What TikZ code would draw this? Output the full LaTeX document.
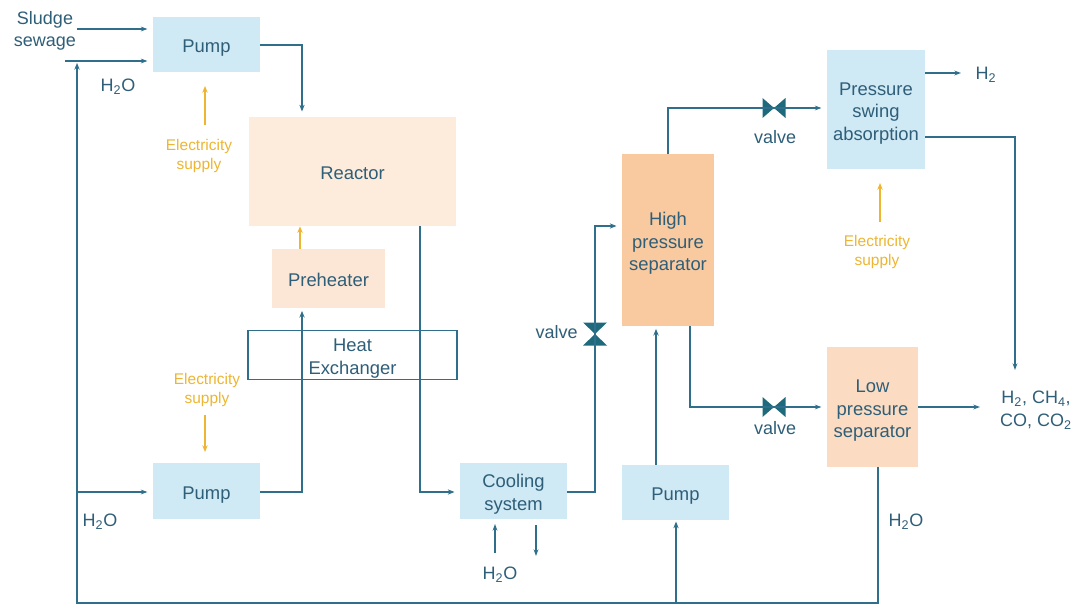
\documentclass[tikz,border=0pt]{standalone}
\usepackage{fontspec}
\setmainfont{Liberation Sans}
\usetikzlibrary{arrows.meta,calc}
\definecolor{flowc}{HTML}{2F6F8C}
\definecolor{txtc}{HTML}{2E5E78}
\definecolor{bluefill}{HTML}{CFE9F5}
\definecolor{peachfill}{HTML}{FDEBDC}
\definecolor{prefill}{HTML}{FCE7D6}
\definecolor{hpfill}{HTML}{F9C9A0}
\definecolor{lpfill}{HTML}{FBDCC2}
\definecolor{elecc}{HTML}{EDB531}
\definecolor{valvec}{HTML}{1E6A7C}
\newcommand\boxtext[1]{\raisebox{-2.8pt}[\height][\depth]{\begin{tabular}{@{}c@{}}#1\end{tabular}}}
\tikzset{
  unit/.style={inner sep=0pt, text=txtc, font=\fontsize{13.8}{17}\selectfont},
  bluebox/.style={unit, fill=bluefill},
  label/.style={inner sep=0pt, align=center, text=txtc, font=\fontsize{13.5}{17}\selectfont},
  eleclabel/.style={inner sep=0pt, align=center, text=elecc, font=\fontsize{11.6}{14}\selectfont},
  flow/.style={draw=flowc, line width=1.3pt, -{Stealth[length=5pt,width=4pt]}},
  flowline/.style={draw=flowc, line width=1.3pt},
  thinflow/.style={draw=flowc, line width=0.8pt, -{Stealth[length=5pt,width=3.6pt]}},
  thinline/.style={draw=flowc, line width=0.8pt},
  elecarrow/.style={draw=elecc, line width=1.3pt, -{Stealth[length=5pt,width=4pt]}},
  hvalve/.pic={\fill[valvec] (-11.5,-10)--(0,0)--(-11.5,10)--cycle (11.5,-10)--(0,0)--(11.5,10)--cycle;},
  vvalve/.pic={\fill[valvec] (-12,-11.5)--(0,0)--(12,-11.5)--cycle (-12,11.5)--(0,0)--(12,11.5)--cycle;}
}
\begin{document}
\begin{tikzpicture}[x=0.75pt,y=-0.75pt]
\useasboundingbox (0,0) rectangle (1077,606);
% units
\node[bluebox, minimum width=80.25pt, minimum height=41.25pt] (pump1) at (206.5,44.5) {\boxtext{Pump}};
\node[unit, fill=peachfill, minimum width=155.25pt, minimum height=81.75pt] (reactor) at (352.5,171.5) {\boxtext{Reactor}};
\node[unit, fill=prefill, minimum width=84.75pt, minimum height=44.25pt] (pre) at (328.5,278.5) {\boxtext{Preheater}};
\node[unit, draw=flowc, line width=1.1pt, minimum width=156.75pt, minimum height=36.75pt] (hx) at (352.5,355) {\boxtext{Heat\\Exchanger}};
\node[bluebox, minimum width=80.25pt, minimum height=42pt] (pump2) at (206.5,491) {\boxtext{Pump}};
\node[bluebox, minimum width=80.25pt, minimum height=42pt] (cool) at (513.5,491) {\boxtext{Cooling\\system}};
\node[unit, fill=hpfill, minimum width=69pt, minimum height=129pt] (hps) at (668,240) {\boxtext{High\\pressure\\separator}};
\node[bluebox, minimum width=80.25pt, minimum height=41.25pt] (pump3) at (675.5,492.5) {\boxtext{Pump}};
\node[bluebox, minimum width=73.5pt, minimum height=89.25pt] (psa) at (876,109.5) {\boxtext{Pressure\\swing\\absorption}};
\node[unit, fill=lpfill, minimum width=68.25pt, minimum height=90pt] (lps) at (872.5,407) {\boxtext{Low\\pressure\\separator}};
% labels
\node[label] (sludge) at (45,31) {Sludge\\sewage};
\node[label] (w1) at (118,87) {H\textsubscript{2}O};
\node[label] (w2) at (100,522) {H\textsubscript{2}O};
\node[label] (w3) at (500,575) {H\textsubscript{2}O};
\node[label] (w4) at (906,522) {H\textsubscript{2}O};
\node[label] (h2) at (986,75) {H\textsubscript{2}};
\node[label] (mix) at (1036,410) {H\textsubscript{2}, CH\textsubscript{4},\\CO, CO\textsubscript{2}};
\node[eleclabel] (e1) at (199,156) {Electricity\\supply};
\node[eleclabel] (e2) at (207,390) {Electricity\\supply};
\node[eleclabel] (e3) at (877,252) {Electricity\\supply};
% valves
\coordinate (v1) at (595,334);
\coordinate (v2) at (774,108);
\coordinate (v3) at (774,407);
\pic at (v1) {vvalve};
\pic at (v2) {hvalve};
\pic at (v3) {hvalve};
\node[label, anchor=east] (vl1) at (578,332) {valve};
\node[label] (vl2) at (775,137) {valve};
\node[label] (vl3) at (775,428) {valve};
% recycle water loop
\coordinate (lpo) at (878,467);
\coordinate (br) at (878,603);
\coordinate (bl) at (77,603);
\coordinate (tl) at (77,63);
\coordinate (p3in) at (676,603);
\draw[flow] (lpo) -- (br) -- (bl) -- (tl);
\draw[thinflow, shorten >=4pt] (65,61) -- (65,61 -| pump1.west);
\draw[thinflow, shorten >=4pt] (77,29) -- (77,29 -| pump1.west);
\draw[thinflow, shorten >=4pt] (77,492) -- (77,492 -| pump2.west);
\draw[flow, shorten >=1pt] (p3in) -- (p3in |- pump3.south);
% main process
\draw[flow, shorten >=4pt] (pump1.east |- 0,45) -- (302,45) -- (302,45 |- reactor.north);
\draw[elecarrow] (pre.north -| 300,0) -- (300,0 |- reactor.south);
\draw[flow, shorten >=2pt] (pump2.east |- 0,492) -- (302,492) -- (302,0 |- pre.south);
\draw[flow, shorten >=4pt] (420,0 |- reactor.south) -- (420,492) -- (420,492 -| cool.west);
\draw[flow, shorten >=4pt] (cool.east |- 0,492) -- (595,492) -- (v1) -- (595,226) -- (595,226 -| hps.west);
\draw[flow, shorten >=2pt] (656,0 |- pump3.north) -- (656,0 |- hps.south);
\draw[thinline] (668,0 |- hps.north) -- (668,108) -- (v2);
\draw[thinflow, shorten >=4pt] (v2) -- (v2 -| psa.west);
\draw[flowline] (690,0 |- hps.south) -- (690,407) -- (v3);
\draw[thinflow, shorten >=4pt] (v3) -- (v3 -| lps.west);
\draw[thinflow] (psa.east |- 0,73) -- (961,73);
\draw[thinflow] (psa.east |- 0,137) -- (1015,137) -- (1015,370);
\draw[thinflow] (lps.east) -- (980,407);
% cooling water
\draw[thinflow] (495,553) -- (495,524);
\draw[thinflow] (536,525) -- (536,556);
% electricity
\draw[elecarrow] (205,125) -- (205,86);
\draw[elecarrow] (205,415) -- (205,452);
\draw[elecarrow] (880,222) -- (880,183);
\end{tikzpicture}
\end{document}
